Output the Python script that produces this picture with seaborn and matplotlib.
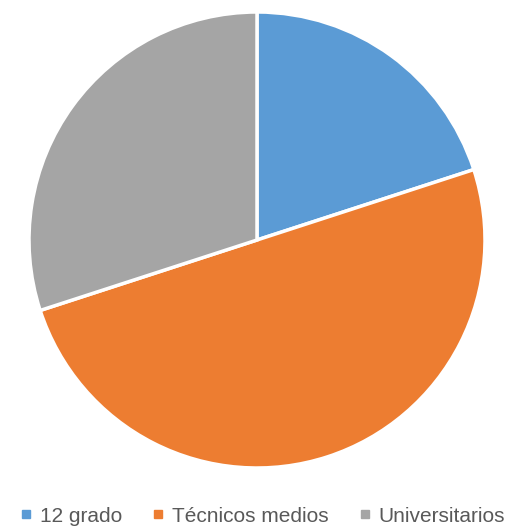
import matplotlib
matplotlib.use("Agg")
import matplotlib.pyplot as plt
from matplotlib.lines import Line2D
import seaborn as sns

categories = ["12 grado", "Técnicos medios", "Universitarios"]
values = [20, 50, 30]
colors = ["#5B9BD5", "#ED7D31", "#A5A5A5"]

sns.set_theme(style="white")
plt.rcParams["font.family"] = ["Liberation Sans", "DejaVu Sans"]

W, H = 512, 529
fig = plt.figure(figsize=(W / 100, H / 100), dpi=100)
cx, cy, r = 257, 240, 228
ax = fig.add_axes([(cx - r) / W, (H - cy - r) / H, 2 * r / W, 2 * r / H])

palette = sns.color_palette(colors)
ax.pie(values, colors=palette, startangle=90, counterclock=False,
       radius=1, wedgeprops=dict(edgecolor="white", linewidth=2.5))
ax.set_xlim(-1, 1)
ax.set_ylim(-1, 1)
ax.axis("off")

handles = [Line2D([0], [0], marker="s", linestyle="", markersize=6,
                  markerfacecolor=c, markeredgecolor=c) for c in palette]
fig.legend(handles, categories, loc="center", bbox_to_anchor=(262 / W, 1 - 516 / H),
           ncol=3, frameon=False, fontsize=15, handletextpad=0.3,
           columnspacing=1.4, handlelength=0.7, labelcolor="#595959",
           borderpad=0.1)

fig.savefig("out.png", dpi=100)
